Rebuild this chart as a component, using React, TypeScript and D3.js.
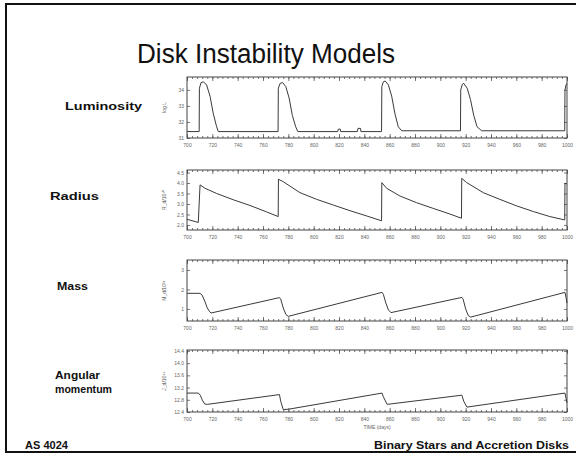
import React, { useEffect, useRef } from 'react';
import * as d3 from 'd3';

// time axis (days)
const timeTicks = [700, 720, 740, 760, 780, 800, 820, 840, 860, 880, 900, 920, 940, 960, 980, 1000];

// [day, log L]
const luminosity: [number, number][] = [
  [700, 31.4], [709.6, 31.4], [709.8, 34.1], [711.1, 34.45], [713, 34.5], [715.5, 34.3], [718.2, 33.6], [720.8, 32.5], [723.4, 31.7], [724.7, 31.4],
  [771.9, 31.4], [772.1, 34.1], [773.5, 34.4], [775.5, 34.45], [778, 34.2], [780.6, 33.5], [783.2, 32.4], [785.8, 31.7], [787.5, 31.4],
  [819, 31.4], [819.5, 31.55], [821, 31.55], [821.3, 31.4],
  [834.5, 31.4], [835, 31.6], [837, 31.6], [837.3, 31.4],
  [853.6, 31.4], [853.8, 34.2], [855, 34.5], [856.5, 34.55], [859, 34.3], [861.6, 33.6], [864.2, 32.5], [866.8, 31.7], [869.5, 31.45],
  [915.9, 31.45], [916.1, 34.0], [917.4, 34.35], [918.5, 34.4], [921.2, 34.1], [923.8, 33.4], [926.4, 32.4], [929, 31.7], [932.6, 31.45],
  [998.2, 31.45], [998.4, 34.0], [999.2, 34.3], [1000, 34.4],
];

// [day, R_d]
const radius: [number, number][] = [
  [700, 2.27], [708.9, 2.12], [710.3, 3.91], [714.2, 3.75], [723.4, 3.5], [736.6, 3.2], [749.7, 2.93], [762.9, 2.62], [772, 2.4],
  [772.2, 4.18], [776, 4.06], [789.2, 3.54], [802.4, 3.22], [815.5, 2.95], [828.7, 2.68], [841.8, 2.43], [853.6, 2.2],
  [853.8, 4.02], [857.6, 3.75], [868.1, 3.38], [881.3, 3.06], [894.4, 2.79], [907.6, 2.52], [916.7, 2.32],
  [916.9, 4.22], [920.8, 4.02], [933.9, 3.54], [947, 3.22], [960.2, 2.91], [973.4, 2.64], [986.5, 2.4], [998.2, 2.24],
  [998.4, 3.99], [1000, 3.95],
];

// [day, M_d]
const mass: [number, number][] = [
  [700, 1.8], [710.3, 1.8], [712, 1.7], [714, 1.4], [716, 1.05], [718, 0.85], [719, 0.79],
  [773, 1.58], [774, 1.5], [776, 1.05], [778, 0.72], [780, 0.62],
  [854, 1.85], [855, 1.75], [857, 1.3], [859, 0.95], [861, 0.81],
  [917, 1.59], [918, 1.5], [920, 1.0], [922, 0.66], [924, 0.58],
  [998.4, 1.85], [999.2, 1.6], [1000, 1.3],
];

// [day, J_d]
const angMom: [number, number][] = [
  [700, 13.02], [709, 13.02], [710.5, 12.95], [712, 12.8], [714, 12.66], [716, 12.65],
  [773, 12.97], [774, 12.75], [776, 12.48], [780, 12.49],
  [854, 13.02], [855, 12.9], [858, 12.65],
  [917, 12.95], [918.5, 12.75], [921, 12.56],
  [998.4, 13.02], [999.2, 12.85], [1000, 12.7],
];

const lumTicks = [31, 32, 33, 34];
const radTicks = [2.0, 2.5, 3.0, 3.5, 4.0, 4.5];
const massTicks = [1, 2, 3];
const angTicks = [12.4, 12.8, 13.2, 13.6, 14.0, 14.4];

const panels = [
  { name: ['Luminosity'], widths: [77], ylab: 'log L', data: luminosity, domain: [31, 34.8], ticks: lumTicks, fmt: d3.format('d'), top: 77, bottom: 138, lx: 65, ly: 110 },
  { name: ['Radius'], widths: [49], ylab: 'R_d/10¹⁰', data: radius, domain: [1.76, 4.62], ticks: radTicks, fmt: d3.format('.1f'), top: 170, bottom: 230, lx: 50, ly: 200 },
  { name: ['Mass'], widths: [31], ylab: 'M_d/10²⁴', data: mass, domain: [0.38, 3.51], ticks: massTicks, fmt: d3.format('d'), top: 260, bottom: 321, lx: 57, ly: 290 },
  { name: ['Angular', 'momentum'], widths: [45, 57], ylab: 'J_d/10⁴⁹', data: angMom, domain: [12.4, 14.43], ticks: angTicks, fmt: d3.format('.1f'), top: 350, bottom: 412, lx: 55, ly: 379 },
];

const W = 576;
const H = 456;

export default function App() {
  const ref = useRef<SVGSVGElement>(null);

  useEffect(() => {
    const svg = d3.select(ref.current);
    svg.selectAll('*').remove();

    // slide frame
    svg.append('rect').attr('x', 6).attr('y', 4).attr('width', 600).attr('height', 448)
      .attr('fill', 'white').attr('stroke', '#111').attr('stroke-width', 2);

    svg.append('text').attr('x', 137).attr('y', 63)
      .attr('font-family', 'Liberation Sans, Arial, sans-serif').attr('font-size', 27).attr('fill', '#111')
      .attr('textLength', 258).attr('lengthAdjust', 'spacingAndGlyphs')
      .text('Disk Instability Models');

    const x = d3.scaleLinear().domain([700, 1000]).range([187, 567]);
    const minor = d3.range(700, 1001, 4);

    panels.forEach((p, i) => {
      const y = d3.scaleLinear().domain(p.domain).range([p.bottom, p.top]);
      const g = svg.append('g').attr('font-family', 'Liberation Sans, Arial, sans-serif');

      // side label
      p.name.forEach((t, k) => {
        g.append('text').attr('x', p.lx).attr('y', p.ly + k * 14)
          .attr('font-size', 11.5).attr('font-weight', 'bold').attr('fill', '#111')
          .attr('textLength', p.widths[k]).attr('lengthAdjust', 'spacingAndGlyphs')
          .text(t);
      });

      const style = (sel: any) => {
        sel.select('.domain').remove();
        sel.selectAll('line').attr('stroke', '#555').attr('stroke-width', 0.8);
        sel.selectAll('text').attr('font-size', 5).attr('fill', '#666').attr('font-family', 'Liberation Sans, Arial, sans-serif');
      };

      g.append('g').attr('transform', `translate(0,${p.bottom})`)
        .call(d3.axisBottom(x).tickValues(minor).tickSize(-2).tickFormat(() => '')).call(style);
      g.append('g').attr('transform', `translate(0,${p.bottom})`)
        .call(d3.axisBottom(x).tickValues(timeTicks).tickSize(-4).tickPadding(5).tickFormat(d3.format('d'))).call(style);
      g.append('g').attr('transform', `translate(0,${p.top})`)
        .call(d3.axisTop(x).tickValues(minor).tickSize(-2).tickFormat(() => '')).call(style);
      g.append('g').attr('transform', `translate(0,${p.top})`)
        .call(d3.axisTop(x).tickValues(timeTicks).tickSize(-4).tickFormat(() => '')).call(style);
      g.append('g').attr('transform', `translate(187,0)`)
        .call(d3.axisLeft(y).tickValues(p.ticks).tickSize(-3).tickPadding(3).tickFormat(p.fmt as any)).call(style);
      g.append('g').attr('transform', `translate(567,0)`)
        .call(d3.axisRight(y).tickValues(p.ticks).tickSize(-3).tickFormat(() => '')).call(style);

      g.append('rect').attr('x', 187).attr('y', p.top).attr('width', 380).attr('height', p.bottom - p.top)
        .attr('fill', 'none').attr('stroke', '#444').attr('stroke-width', 1);

      g.append('text').attr('transform', `translate(166,${(p.top + p.bottom) / 2}) rotate(-90)`)
        .attr('text-anchor', 'middle').attr('font-size', 5).attr('fill', '#555').text(p.ylab);

      const line = d3.line<[number, number]>().x(d => x(d[0])).y(d => y(d[1]));
      g.append('path').datum(p.data).attr('d', line).attr('fill', 'none')
        .attr('stroke', '#3a3a3a').attr('stroke-width', 1);

      if (i === panels.length - 1) {
        g.append('text').attr('x', 377).attr('y', 429).attr('text-anchor', 'middle')
          .attr('font-size', 5).attr('fill', '#666').text('TIME (days)');
      }
    });

    svg.append('text').attr('x', 25).attr('y', 449)
      .attr('font-family', 'Liberation Sans, Arial, sans-serif').attr('font-size', 10).attr('font-weight', 'bold')
      .attr('fill', '#111').attr('textLength', 43).attr('lengthAdjust', 'spacingAndGlyphs').text('AS 4024');
    svg.append('text').attr('x', 374).attr('y', 449)
      .attr('font-family', 'Liberation Sans, Arial, sans-serif').attr('font-size', 10).attr('font-weight', 'bold')
      .attr('fill', '#111').attr('textLength', 195).attr('lengthAdjust', 'spacingAndGlyphs').text('Binary Stars and Accretion Disks');
  }, []);

  return (
    <svg ref={ref} width={W} height={H}
      style={{ position: 'absolute', left: 0, top: 0, background: 'white' }} />
  );
}
